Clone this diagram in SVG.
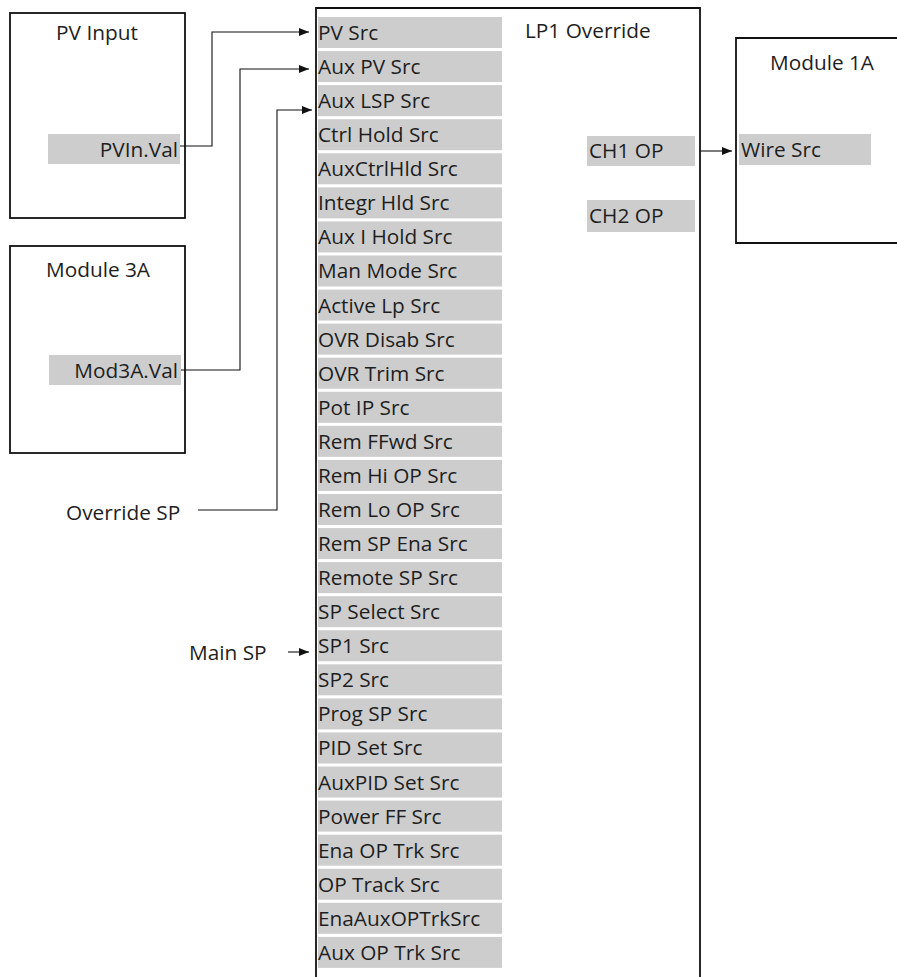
<svg xmlns="http://www.w3.org/2000/svg" width="897" height="977" viewBox="0 0 897 977">
<style>
text{font-family:"Open Sans","DejaVu Sans",sans-serif;font-size:20.8px;fill:#1e1e1e}
.box{fill:#fff;stroke:#111;stroke-width:1.8}
.cell{fill:#cdcdcd}
.wire{fill:none;stroke:#111;stroke-width:1.1}
</style>
<defs>
<marker id="ah" viewBox="0 0 10 8" refX="10" refY="4" markerWidth="10" markerHeight="8" markerUnits="userSpaceOnUse" orient="auto">
<path d="M0,0 L10,4 L0,8 Z" fill="#111"/>
</marker>
</defs>
<g id="pv-input">
<rect class="box" x="10" y="13" width="175" height="205"/>
<text x="97" y="40" text-anchor="middle">PV Input</text>
<rect class="cell" x="48" y="134" width="132" height="30"/>
<text x="178" y="157" text-anchor="end">PVIn.Val</text>
</g>
<g id="module-3a">
<rect class="box" x="10" y="246" width="175" height="207"/>
<text x="98" y="277" text-anchor="middle">Module 3A</text>
<rect class="cell" x="49" y="355" width="132" height="30"/>
<text x="178" y="378" text-anchor="end">Mod3A.Val</text>
</g>
<g id="override-sp"><text x="66" y="520">Override SP</text></g>
<g id="main-sp"><text x="189" y="660">Main SP</text></g>
<g id="lp1-override">
<path class="box" d="M316,977 V8 H700 V977"/>
<text x="525" y="38">LP1 Override</text>
<g class="rows">
<rect class="cell" x="318" y="17" width="184" height="31"/><text x="318" y="40">PV Src</text>
<rect class="cell" x="318" y="51.07" width="184" height="31"/><text x="318" y="74.07">Aux PV Src</text>
<rect class="cell" x="318" y="85.14" width="184" height="31"/><text x="318" y="108.14">Aux LSP Src</text>
<rect class="cell" x="318" y="119.21" width="184" height="31"/><text x="318" y="142.21">Ctrl Hold Src</text>
<rect class="cell" x="318" y="153.28" width="184" height="31"/><text x="318" y="176.28">AuxCtrlHld Src</text>
<rect class="cell" x="318" y="187.35" width="184" height="31"/><text x="318" y="210.35">Integr Hld Src</text>
<rect class="cell" x="318" y="221.42" width="184" height="31"/><text x="318" y="244.42">Aux I Hold Src</text>
<rect class="cell" x="318" y="255.49" width="184" height="31"/><text x="318" y="278.49">Man Mode Src</text>
<rect class="cell" x="318" y="289.56" width="184" height="31"/><text x="318" y="312.56">Active Lp Src</text>
<rect class="cell" x="318" y="323.63" width="184" height="31"/><text x="318" y="346.63">OVR Disab Src</text>
<rect class="cell" x="318" y="357.7" width="184" height="31"/><text x="318" y="380.7">OVR Trim Src</text>
<rect class="cell" x="318" y="391.77" width="184" height="31"/><text x="318" y="414.77">Pot IP Src</text>
<rect class="cell" x="318" y="425.84" width="184" height="31"/><text x="318" y="448.84">Rem FFwd Src</text>
<rect class="cell" x="318" y="459.91" width="184" height="31"/><text x="318" y="482.91">Rem Hi OP Src</text>
<rect class="cell" x="318" y="493.98" width="184" height="31"/><text x="318" y="516.98">Rem Lo OP Src</text>
<rect class="cell" x="318" y="528.05" width="184" height="31"/><text x="318" y="551.05">Rem SP Ena Src</text>
<rect class="cell" x="318" y="562.12" width="184" height="31"/><text x="318" y="585.12">Remote SP Src</text>
<rect class="cell" x="318" y="596.19" width="184" height="31"/><text x="318" y="619.19">SP Select Src</text>
<rect class="cell" x="318" y="630.26" width="184" height="31"/><text x="318" y="653.26">SP1 Src</text>
<rect class="cell" x="318" y="664.33" width="184" height="31"/><text x="318" y="687.33">SP2 Src</text>
<rect class="cell" x="318" y="698.4" width="184" height="31"/><text x="318" y="721.4">Prog SP Src</text>
<rect class="cell" x="318" y="732.47" width="184" height="31"/><text x="318" y="755.47">PID Set Src</text>
<rect class="cell" x="318" y="766.54" width="184" height="31"/><text x="318" y="789.54">AuxPID Set Src</text>
<rect class="cell" x="318" y="800.61" width="184" height="31"/><text x="318" y="823.61">Power FF Src</text>
<rect class="cell" x="318" y="834.68" width="184" height="31"/><text x="318" y="857.68">Ena OP Trk Src</text>
<rect class="cell" x="318" y="868.75" width="184" height="31"/><text x="318" y="891.75">OP Track Src</text>
<rect class="cell" x="318" y="902.82" width="184" height="31"/><text x="318" y="925.82">EnaAuxOPTrkSrc</text>
<rect class="cell" x="318" y="936.89" width="184" height="31"/><text x="318" y="959.89">Aux OP Trk Src</text>
</g>
<rect class="cell" x="587" y="136" width="108" height="30"/><text x="589" y="158">CH1 OP</text>
<rect class="cell" x="587" y="200" width="108" height="32"/><text x="589" y="223">CH2 OP</text>
</g>
<g id="module-1a">
<path class="box" d="M900,38 H736 V243 H900"/>
<text x="822" y="70" text-anchor="middle">Module 1A</text>
<rect class="cell" x="739" y="134" width="132" height="31"/>
<text x="741" y="157">Wire Src</text>
</g>
<g id="connectors">
<path class="wire" d="M180,146 H212 V32 H309" marker-end="url(#ah)"/>
<path class="wire" d="M181,370 H240 V69 H309" marker-end="url(#ah)"/>
<path class="wire" d="M198,510 H277 V110 H312" marker-end="url(#ah)"/>
<path class="wire" d="M288,652 H309" marker-end="url(#ah)"/>
<path class="wire" d="M700,151 H732" marker-end="url(#ah)"/>
</g>
</svg>
